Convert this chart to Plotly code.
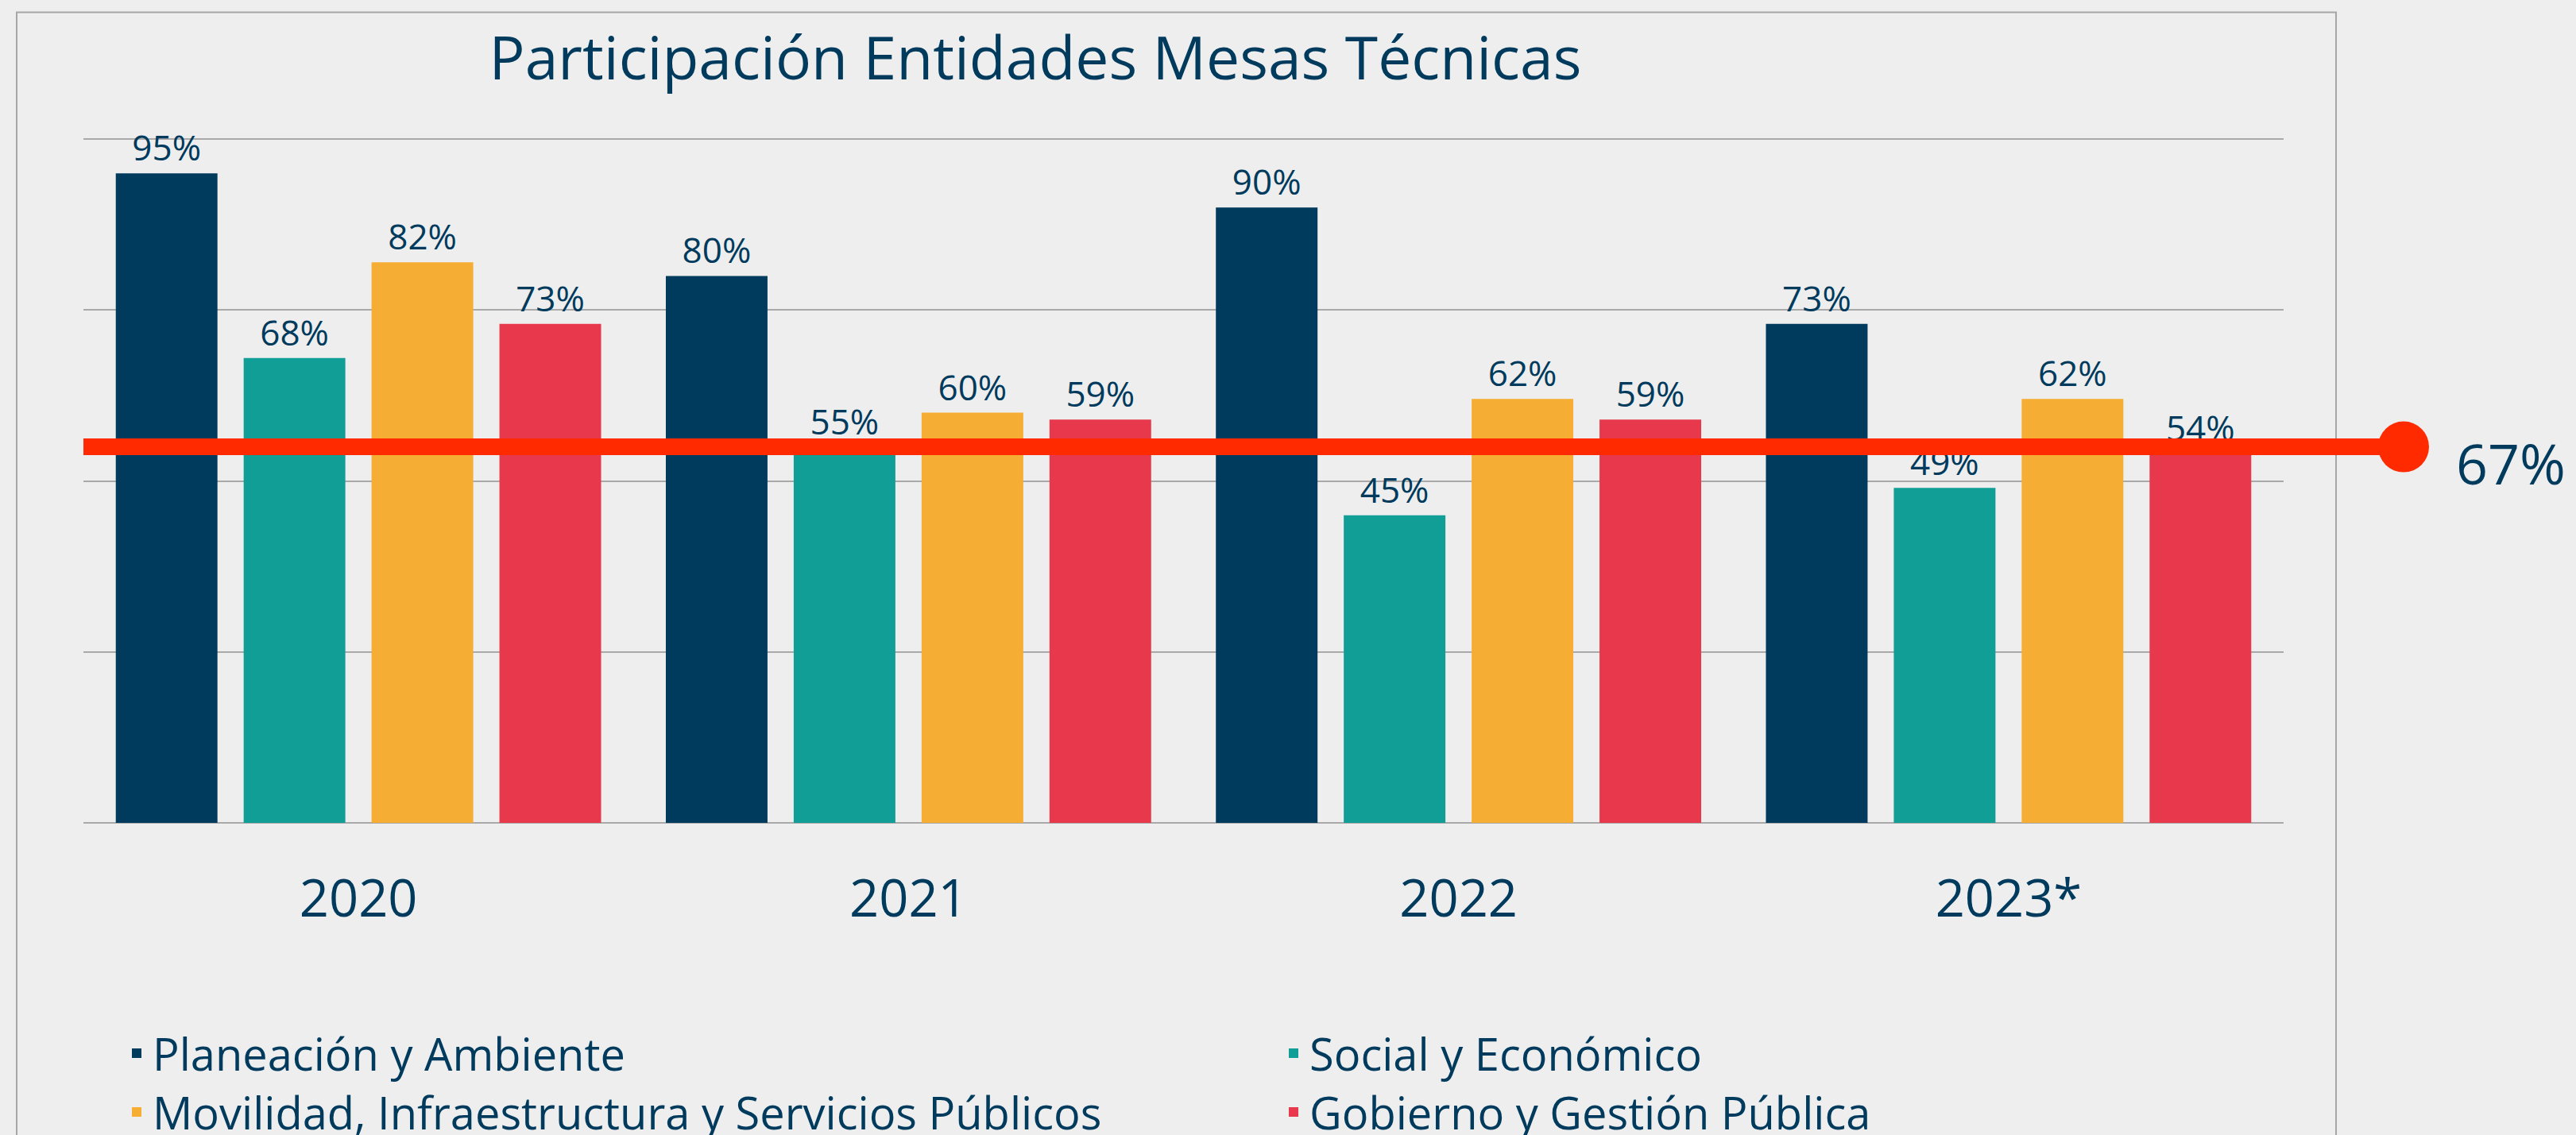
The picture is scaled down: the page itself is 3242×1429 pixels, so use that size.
import plotly.graph_objects as go

# ---------------- data ----------------
years = ["2020", "2021", "2022", "2023*"]
planeacion = [95, 80, 90, 73]
social = [68, 55, 45, 49]
movilidad = [82, 60, 62, 62]
gobierno = [73, 59, 59, 54]

series_names = [
    "Planeación y Ambiente",
    "Social y Económico",
    "Movilidad, Infraestructura y Servicios Públicos",
    "Gobierno y Gestión Pública",
]
series_values = [planeacion, social, movilidad, gobierno]
series_colors = ["#003A5C", "#119E96", "#F5AD33", "#E8384B"]

title_text = "Participación Entidades Mesas Técnicas"
ref_line_pos = 55          # where the red marker line is drawn on the axis
ref_line_label = "67%"

# ---------------- styling ----------------
FONT = "Open Sans, Lato, sans-serif"
NAVY = "#003A5C"
BG = "#EEEEEE"
GRID = "#A9A9A9"
RED = "#FF2A00"

W, H = 3242, 1429
Y_TOP = 100.5
BASE_PX = 1036          # pixel row of y=0
UNIT_PX = 8.603         # pixels per percentage point
ML, MR = 105, 368
MB = H - BASE_PX
MT = BASE_PX - Y_TOP * UNIT_PX
PW = W - ML - MR
PH = H - MT - MB


def px_x(px):
    return (px - ML) / PW


def px_y(px):
    return (BASE_PX - px) / PH


fig = go.Figure()

legend_ids = ["legend", "legend2", "legend3", "legend4"]
for name, vals, col, lg in zip(series_names, series_values, series_colors, legend_ids):
    fig.add_trace(go.Bar(
        x=years, y=vals, name=name,
        marker=dict(color=col, line=dict(width=16, color="rgba(0,0,0,0)")),
        texttemplate="%{y}%", textposition="outside",
        textfont=dict(family=FONT, size=44, color=NAVY),
        cliponaxis=False,
        legend=lg,
    ))

shapes = [
    # outer frame
    dict(type="rect", xref="paper", yref="paper",
         x0=px_x(21), x1=px_x(2940), y0=px_y(1460), y1=px_y(16),
         line=dict(color="#A6A6A6", width=2), fillcolor="rgba(0,0,0,0)", layer="below"),
    # red reference line
    dict(type="line", xref="paper", yref="y",
         x0=0, x1=px_x(3025), y0=ref_line_pos, y1=ref_line_pos,
         line=dict(color=RED, width=21), layer="above"),
    dict(type="circle", xref="paper", yref="y",
         xsizemode="pixel", ysizemode="pixel",
         xanchor=px_x(3025), yanchor=ref_line_pos,
         x0=-32, x1=32, y0=-32, y1=32,
         fillcolor=RED, line=dict(color=RED, width=0), layer="above"),
]

annotations = [
    dict(text=ref_line_label, xref="paper", yref="paper",
         x=px_x(3160), y=px_y(583), xanchor="center", yanchor="middle",
         showarrow=False, font=dict(family=FONT, size=70, color=NAVY)),
]

legend_style = dict(xanchor="left", yanchor="middle", orientation="v",
                    bgcolor="rgba(0,0,0,0)", borderwidth=0,
                    font=dict(family=FONT, size=56, color=NAVY))
legend_pos = [(152, 1326), (1608, 1326), (152, 1400), (1608, 1400)]
legend_layouts = {}
for lid, (lx, ly) in zip(legend_ids, legend_pos):
    legend_layouts[lid] = dict(x=px_x(lx), y=px_y(ly), **legend_style)

fig.update_layout(
    width=W, height=H,
    paper_bgcolor=BG, plot_bgcolor=BG,
    margin=dict(l=ML, r=MR, t=MT, b=MB, autoexpand=False),
    title=dict(text=title_text, xref="container", yref="container",
               x=1303 / W, y=1 - 74 / H, xanchor="center", yanchor="middle",
               font=dict(family=FONT, size=75, color=NAVY)),
    barmode="group", bargap=0.07, bargroupgap=0.205,
    showlegend=True,
    shapes=shapes,
    annotations=annotations,
    font=dict(family=FONT, color=NAVY),
    **legend_layouts,
)

fig.update_xaxes(
    type="category", showgrid=False, showline=False, ticks="",
    tickfont=dict(family=FONT, size=65, color=NAVY),
    ticklabelstandoff=52,
)
fig.update_yaxes(
    range=[0, Y_TOP], tickvals=[0, 25, 50, 75, 100], showticklabels=False, ticks="",
    showgrid=True, gridcolor=GRID, gridwidth=2,
    zeroline=True, zerolinecolor=GRID, zerolinewidth=2, showline=False,
)

fig.write_html("out.html", config={"displayModeBar": False},
               post_script="document.body.style.margin='0';")
